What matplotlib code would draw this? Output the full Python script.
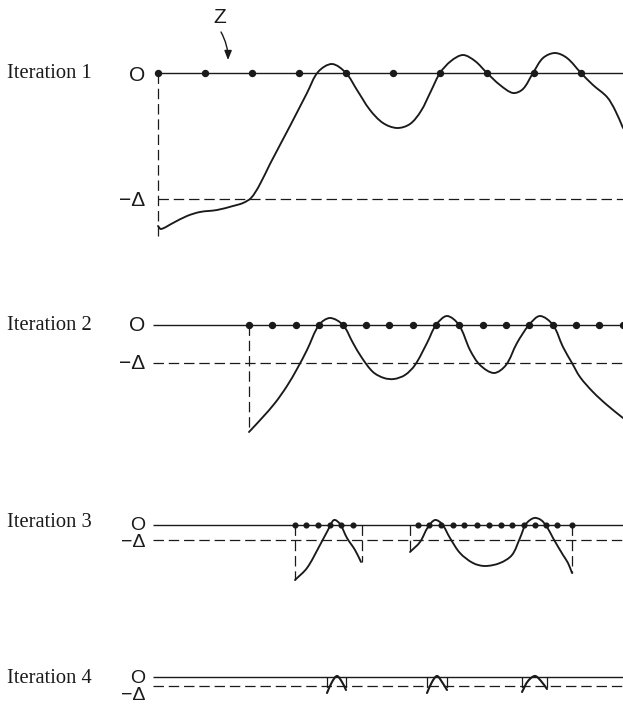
"""
Iterative zero-crossing refinement: four stages of sampling a curve against O and -Δ
"""
import numpy as np
import matplotlib.pyplot as plt
from matplotlib.path import Path
from matplotlib.patches import PathPatch

plt.rcParams['lines.scale_dashes'] = False

INK = '#1a1a1a'
DASH = (0, (7.5, 3.5))

# rows (image coordinates, y grows downward)
labels = ['Iteration 1', 'Iteration 2', 'Iteration 3', 'Iteration 4']
zero_y = [73, 325, 525, 677]
delta_y = [199, 363, 540, 686]
line_start = [158, 153, 153, 153]
label_base = [78, 330, 527, 683]
o_base = [81, 331, 530, 683]
d_base = [206, 369, 547, 700]
mark_size = [15, 15, 14, 14]

# sample points on the O line
dots1_x = [158, 205, 252, 299, 346, 393, 440, 487, 534, 581]
dots2_x = [249, 272, 296, 319, 343, 366, 389, 413, 436, 459, 483, 506, 529,
           553, 576, 599, 623]
dots3_x = [295, 306, 318, 330, 341, 353,
           418, 429, 441, 453, 464, 477, 489, 501, 512, 524, 535, 546, 557, 572]

# vertical drop lines (x, bottom y)
drops1 = [(158, 236)]
drops2 = [(249, 432)]
drops3 = [(295, 580), (362, 562), (410, 552), (572, 573)]
drops4 = [(327, 692), (346, 692), (427, 692), (447, 692), (522, 692), (547, 692)]

# curve traces
curve1_x = [158, 161, 173, 187, 200, 217, 233, 243, 251, 259, 270, 290, 307,
            318, 332, 346, 357, 370, 383, 397, 410, 421, 431, 440, 451, 463,
            475, 487, 500, 513, 523, 533, 543, 555, 567, 581, 593, 607, 615, 623]
curve1_y = [226, 229, 223, 216, 212, 210, 206, 203, 198, 186, 164, 126, 93,
            72, 64, 73, 90, 110, 123, 128, 124, 111, 91, 73, 61, 55,
            61, 73, 85, 93, 89, 73, 58, 53, 58, 73, 85, 97, 110, 128]

curve2_x = [249, 262, 275, 287, 297, 307, 319, 330, 343, 353, 362, 373, 384,
            394, 405, 415, 427, 436, 447, 459, 470, 480, 494, 506, 517,
            529, 540, 553, 563, 572, 580, 593, 607, 623]
curve2_y = [432, 418, 403, 386, 369, 350, 325, 318, 325, 343, 358, 372, 378,
            379, 375, 365, 343, 325, 316, 325, 350, 365, 373, 365, 343,
            325, 316, 325, 347, 363, 377, 392, 405, 418]

curve3a_x = [295, 307, 320, 328, 334, 340, 347, 355, 361]
curve3a_y = [580, 568, 545, 530, 520, 524, 538, 550, 562]
curve3b_x = [410, 420, 428, 435, 442, 450, 460, 473, 485, 500, 512, 520, 526,
             534, 541, 547, 553, 563, 568, 572]
curve3b_y = [552, 542, 527, 520, 524, 538, 553, 563, 566, 563, 555, 538, 524,
             518, 520, 527, 538, 555, 563, 573]

bumps4 = [([327, 332, 337, 342, 346], [693, 682, 676, 682, 690]),
          ([427, 432, 437, 442, 447], [693, 682, 676, 682, 690]),
          ([522, 528, 535, 541, 547], [692, 681, 676, 681, 689])]


def smooth_path(xs, ys):
    """Cubic Bezier path through the points, chord-length tangents."""
    pts = np.column_stack([xs, ys]).astype(float)
    n = len(pts)
    t = np.concatenate([[0], np.cumsum(np.hypot(*np.diff(pts, axis=0).T))])
    tang = np.zeros_like(pts)
    tang[0] = (pts[1] - pts[0]) / (t[1] - t[0])
    tang[-1] = (pts[-1] - pts[-2]) / (t[-1] - t[-2])
    for i in range(1, n - 1):
        tang[i] = (pts[i + 1] - pts[i - 1]) / (t[i + 1] - t[i - 1])
    verts = [pts[0]]
    codes = [Path.MOVETO]
    for i in range(n - 1):
        h = (t[i + 1] - t[i]) / 3
        verts += [pts[i] + tang[i] * h, pts[i + 1] - tang[i + 1] * h, pts[i + 1]]
        codes += [Path.CURVE4] * 3
    return Path(verts, codes)


def draw_curve(ax, xs, ys, lw=1.35):
    ax.add_patch(PathPatch(smooth_path(xs, ys), fill=False, ec=INK, lw=lw,
                           capstyle='round', joinstyle='round', zorder=3))


fig = plt.figure(figsize=(6.23, 7.04), dpi=100)
ax = fig.add_axes([0, 0, 1, 1])
ax.set_xlim(0, 623)
ax.set_ylim(704, 0)
ax.axis('off')

for i in range(4):
    ax.plot([line_start[i], 623], [zero_y[i], zero_y[i]], color=INK, lw=1.0,
            solid_capstyle='butt', zorder=2)
    ax.plot([line_start[i], 623], [delta_y[i], delta_y[i]], color=INK, lw=0.9,
            linestyle=DASH, zorder=2)
    ax.text(7, label_base[i], labels[i], family='Liberation Serif',
            fontsize=14.8, color=INK, ha='left', va='baseline')
    ax.text(145, o_base[i], 'O', family='Liberation Sans',
            fontsize=mark_size[i], color=INK, ha='right', va='baseline')
    ax.text(145, d_base[i], '\u2212\u0394', family='Liberation Sans',
            fontsize=mark_size[i], color=INK, ha='right', va='baseline')

# drop lines
for drops, row in [(drops1, 0), (drops2, 1), (drops3, 2), (drops4, 3)]:
    for x, yb in drops:
        ax.plot([x, x], [zero_y[row], yb], color=INK, lw=0.9, linestyle=DASH,
                zorder=2)

# curves
draw_curve(ax, curve1_x, curve1_y)
draw_curve(ax, curve2_x, curve2_y)
draw_curve(ax, curve3a_x, curve3a_y)
draw_curve(ax, curve3b_x, curve3b_y)
for bx, by in bumps4:
    draw_curve(ax, bx, by, lw=1.5)

# sample dots
ax.plot(dots1_x, [zero_y[0]] * len(dots1_x), 'o', color=INK, ms=4.3, zorder=4)
ax.plot(dots2_x, [zero_y[1]] * len(dots2_x), 'o', color=INK, ms=4.3, zorder=4)
ax.plot(dots3_x, [zero_y[2]] * len(dots3_x), 'o', color=INK, ms=3.4, zorder=4)

# Z marker with its arrow
ax.text(220, 23, 'Z', family='Liberation Sans', fontsize=15, color=INK,
        ha='center', va='baseline')
ax.annotate('', xy=(228, 60), xytext=(221, 32),
            arrowprops=dict(arrowstyle='-|>,head_length=0.55,head_width=0.22',
                            color=INK, lw=1.0, mutation_scale=10,
                            connectionstyle='arc3,rad=-0.13',
                            shrinkA=0, shrinkB=0))

fig.savefig('out.png', dpi=100)
